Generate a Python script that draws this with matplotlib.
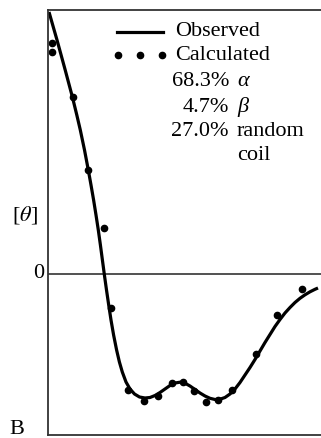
import matplotlib
matplotlib.use("Agg")
import matplotlib.pyplot as plt

# Observed CD curve (arbitrary wavelength units, [theta] in arbitrary units)
obs_x = [1.0, 4.7, 9.0, 13.1, 17.2, 21.2, 24.4, 28.8, 32.3, 36.5, 40.3, 43.0, 45.6, 48.0,
         50.3, 52.4, 54.4, 56.4, 58.5, 60.7, 63.0, 65.6, 68.6, 71.4, 74.3, 78.0, 82.0, 86.5,
         91.5, 97.0, 102, 107, 112, 117, 122, 127, 132, 137, 142, 147, 152, 157, 162, 167,
         172, 177, 182, 187, 192, 197, 202, 207, 212, 217, 222, 227, 232, 237, 242, 247,
         252, 257, 262, 267, 270]
obs_y = [262, 249, 234, 219, 204, 189, 177, 159, 144, 124, 104, 89, 74, 59,
         44, 29, 14, -1, -16, -31, -46, -61, -76, -88, -98, -108, -115, -120,
         -123, -124, -123.5, -121.5, -118.5, -115, -111.5, -109, -108.2, -109.2, -112, -115.5,
         -119, -122, -124.3, -125.5, -125.2, -123.5, -120, -115, -108.5, -101, -93.5, -85.5,
         -77, -68.5, -60.5, -52.5, -45.5, -39, -33.5, -28.5, -24.3, -20.8, -17.8, -15.3, -14]

# Calculated points
calc_x = [3.7, 3.7, 25.3, 40.3, 56.0, 62.7, 80.3, 96.0, 110.3, 124.3, 134.7, 146.0, 158.0,
          170.3, 183.7, 207.7, 229.3, 254.3]
calc_y = [230.7, 222.3, 177.3, 104.0, 46.3, -33.7, -116.0, -127.0, -121.7, -108.7, -107.7,
          -117.0, -128.0, -126.0, -116.0, -80.0, -41.0, -15.3]

legend_labels = ["Observed", "Calculated"]
composition_pct = ["68.3%", "4.7%", "27.0%"]
composition_names = ["α", "β", "random"]

W, H = 321, 438
fig = plt.figure(figsize=(W / 100, H / 100), dpi=100)
serif = ["Liberation Serif", "DejaVu Serif"]
fs = 16

ax = fig.add_axes([48 / W, 1 - 435 / H, 1 - 48 / W, (435 - 10) / H])
ax.set_xlim(0, 273)
ax.set_ylim(-161, 264)
for s in ["left", "top", "bottom"]:
    ax.spines[s].set_linewidth(1.3)
    ax.spines[s].set_color("#333333")
ax.spines["right"].set_visible(False)
ax.set_xticks([])
ax.set_yticks([])
ax.axhline(0, color="#333333", lw=1.2)

ax.plot(obs_x, obs_y, color="black", lw=2.3, solid_capstyle="butt",
        solid_joinstyle="round")
ax.plot(calc_x, calc_y, "o", color="black", ms=4.5)

def fx(px):
    return px / W

def fy(py):
    return 1 - py / H

# legend
fig.add_artist(plt.Line2D([fx(117), fx(163)], [fy(32), fy(32)], color="black", lw=2.3))
fig.add_artist(plt.Line2D([fx(118), fx(140), fx(162)], [fy(55)] * 3, color="black",
                          marker="o", ls="none", ms=4.5))
fig.text(fx(175), fy(32), legend_labels[0], family=serif, fontsize=fs, va="center", ha="left")
fig.text(fx(175), fy(55), legend_labels[1], family=serif, fontsize=fs, va="center", ha="left")
rows = [82, 107, 131]
for pct, name, py in zip(composition_pct, composition_names, rows):
    fig.text(fx(229), fy(py), pct, family=serif, fontsize=fs, va="center", ha="right")
    style = "italic" if name in ("α", "β") else "normal"
    fig.text(fx(237), fy(py), name, family=serif, fontsize=fs, va="center", ha="left",
             style=style)
fig.text(fx(237), fy(155), "coil", family=serif, fontsize=fs, va="center", ha="left")

# axis labels
fig.text(fx(25), fy(215), "[$\\mathit{\\theta}$]", family=serif, fontsize=fs, va="center",
         ha="center", math_fontfamily="stix")
fig.text(fx(44), fy(274), "0", family=serif, fontsize=fs, va="center", ha="right")
fig.text(fx(17), fy(429), "B", family=serif, fontsize=fs, va="center", ha="center")

fig.savefig("out.png", dpi=100)
